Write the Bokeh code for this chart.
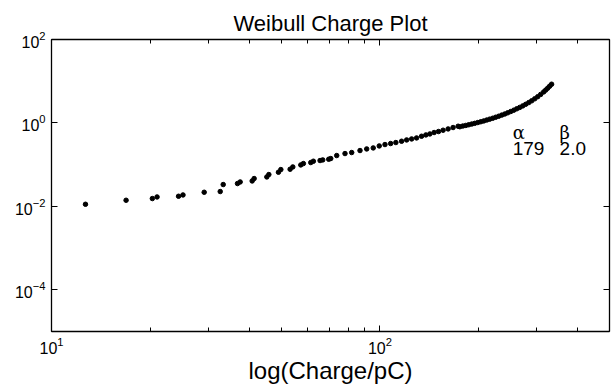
from bokeh.plotting import figure
from bokeh.models import LogAxis, FixedTicker, Range1d, ColumnDataSource
from bokeh.embed import file_html
from bokeh.resources import INLINE
from bokeh.core.properties import value

# Charge (pC)
charge = [12.69, 16.87, 20.28, 20.96, 24.37, 25.14, 29.17, 32.64, 33.33, 36.84,
          37.54, 40.83, 41.40, 45.25, 45.89, 49.09, 49.92, 53.27, 54.29, 57.41,
          58.47, 61.58, 62.71, 65.72, 66.97, 69.83, 70.83, 73.86, 78.28, 82.04,
          86.96, 91.14, 95.41, 99.52, 103.6, 107.8, 111.8, 116.4, 120.6, 124.9,
          129.3, 133.9, 138.0, 141.9, 146.2, 150.8, 155.7, 161.3, 167.0, 173.0,
          175.1, 178.8, 182.6, 186.4, 190.4, 194.4, 198.6, 202.8, 207.1, 211.5,
          215.9, 220.6, 225.2, 230.0, 234.9, 239.9, 244.9, 250.2, 255.5, 260.9,
          266.4, 272.1, 277.8, 283.8, 289.7, 295.9, 302.2, 308.6, 315.2, 319.6,
          324.1, 328.6, 333.2]
# Weibull plotting value (cumulative hazard)
weibull = [0.01122, 0.0140, 0.01538, 0.0168, 0.01746, 0.01876, 0.02178, 0.02265, 0.03334, 0.03524,
           0.03846, 0.04064, 0.04645, 0.0507, 0.0579, 0.0658, 0.0762, 0.0776, 0.0881, 0.0984,
           0.1062, 0.1122, 0.1208, 0.1254, 0.1298, 0.1349, 0.140, 0.1652, 0.1845, 0.1950,
           0.2178, 0.2379, 0.2515, 0.2808, 0.3034, 0.3206, 0.3388, 0.3639, 0.3908, 0.4130,
           0.4365, 0.4797, 0.5154, 0.5445, 0.5888, 0.6223, 0.6683, 0.7178, 0.7762, 0.8337,
           0.811, 0.843, 0.871, 0.905, 0.941, 0.978, 1.022, 1.069, 1.117, 1.174,
           1.233, 1.296, 1.370, 1.448, 1.539, 1.635, 1.747, 1.877, 2.017, 2.178,
           2.353, 2.557, 2.793, 3.068, 3.388, 3.784, 4.249, 4.826, 5.539, 6.118,
           6.795, 7.588, 8.472]

x_major = [10, 100]
x_minor = [20, 30, 40, 50, 60, 70, 80, 90, 200, 300, 400]
y_major = [1e-4, 1e-2, 1e0, 1e2]

title_text = "Weibull Charge Plot"
param_names = ["α", "β"]
param_values = ["179", "2.0"]

FONT = "Liberation Sans"

p = figure(width=611, height=386, x_axis_type="log", y_axis_type="log",
           x_range=Range1d(10, 500), y_range=Range1d(1e-5, 1e2),
           output_backend="svg", toolbar_location=None,
           min_border_left=51, min_border_right=2, min_border_top=39, min_border_bottom=54,
           background_fill_color="white", border_fill_color="white")
p.outline_line_color = "black"
p.outline_line_width = 1
p.xgrid.visible = False
p.ygrid.visible = False

p.title.text = title_text
p.title.align = "center"
p.title.vertical_align = "top"
p.title.text_font = FONT
p.title.text_font_size = "22px"
p.title.text_font_style = "normal"
p.title.text_color = "black"
p.title.standoff = 4

def style(ax, major, minor, show_labels=True):
    ax.ticker = FixedTicker(ticks=major, minor_ticks=minor)
    ax.axis_line_color = "black"
    ax.axis_line_width = 1.3
    ax.major_tick_line_color = "black"
    ax.minor_tick_line_color = "black"
    ax.major_tick_in = 6
    ax.major_tick_out = 0
    ax.minor_tick_in = 4
    ax.minor_tick_out = 0
    ax.major_label_text_font = FONT
    ax.major_label_text_font_size = "16px"
    ax.major_label_text_color = "black"
    if not show_labels:
        ax.major_label_text_font_size = "0px"
        ax.major_label_text_alpha = 0
        ax.major_label_standoff = 0

style(p.xaxis[0], x_major, x_minor)
style(p.yaxis[0], y_major, [])
p.xaxis[0].major_label_standoff = 5
p.yaxis[0].major_label_standoff = 6
p.xaxis[0].axis_label = "log(Charge/pC)"
p.xaxis[0].axis_label_text_font = FONT
p.xaxis[0].axis_label_text_font_size = "24px"
p.xaxis[0].axis_label_text_font_style = "normal"
p.xaxis[0].axis_label_text_color = "black"
p.xaxis[0].axis_label_standoff = 0

top = LogAxis()
style(top, x_major, x_minor, show_labels=False)
p.add_layout(top, "above")
right = LogAxis()
style(right, y_major, [], show_labels=False)
p.add_layout(right, "right")

src = ColumnDataSource(dict(x=charge, y=weibull))
p.scatter("x", "y", source=src, size=4.5, color="black", line_color="black")

# parameter annotation
p.text(x=[253.7, 352.4], y=[0.59, 0.59], text=param_names,
       text_font=value("DejaVu Serif"), text_font_size="18px", text_color="black",
       text_baseline="alphabetic", text_align="left")
p.text(x=[253.7, 352.4], y=[0.25, 0.25], text=param_values,
       text_font=value(FONT), text_font_size="19px", text_color="black",
       text_baseline="alphabetic", text_align="left")

open("out.html", "w").write(file_html(p, INLINE))
